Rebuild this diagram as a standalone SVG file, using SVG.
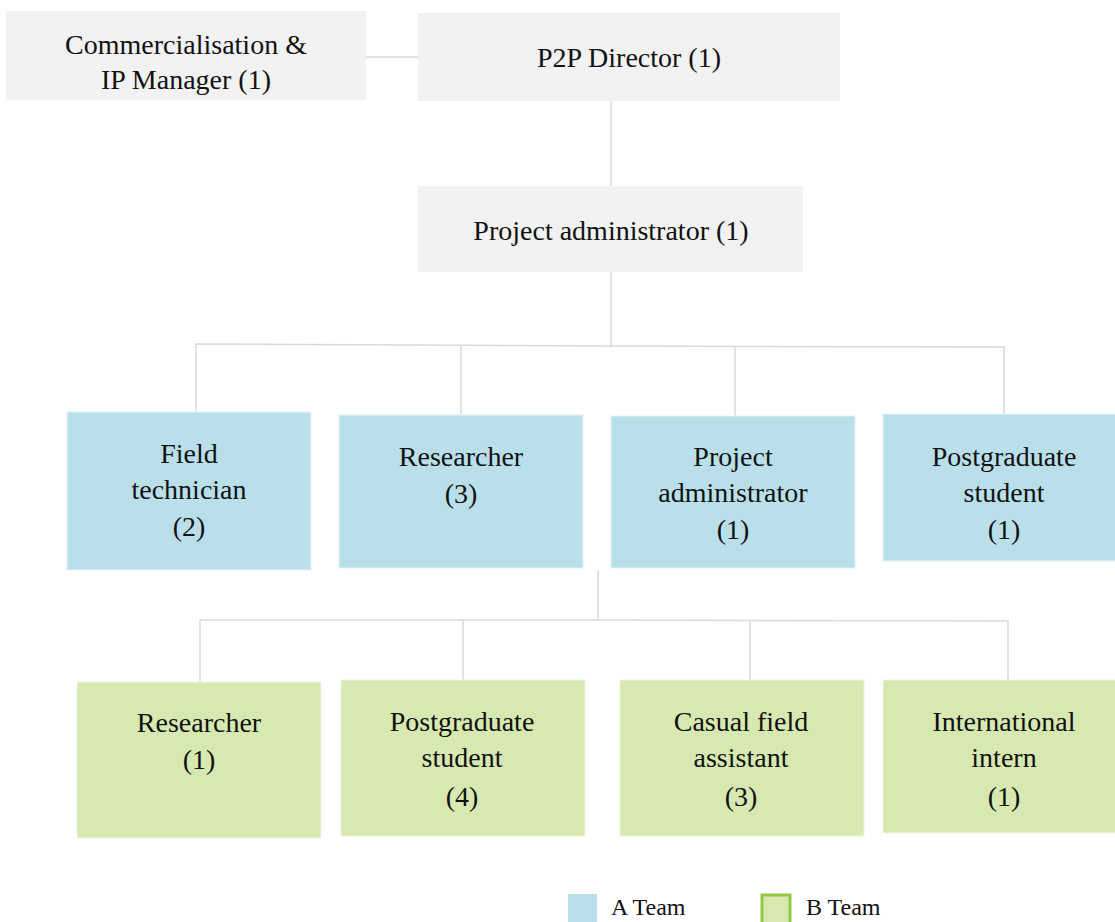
<svg xmlns="http://www.w3.org/2000/svg" width="1115" height="922" viewBox="0 0 1115 922">
  <style>
    .grey { fill: #f2f2f2; }
    .blue { fill: #b9e0ea; stroke: #e6f4f8; stroke-width: 1; }
    .green { fill: #d7e9b0; stroke: #eef6e0; stroke-width: 1; }
    .lbl { font-size: 28px; fill: #111; text-anchor: middle; }
    .leg { font-size: 24px; fill: #111; }
    .conn { fill: none; stroke: #d9d9d9; stroke-width: 1.5; }
  </style>

  <!-- connectors -->
  <g id="connectors" class="conn">
    <line x1="366" y1="57" x2="418" y2="57"/>
    <line x1="611" y1="101" x2="611" y2="186"/>
    <line x1="611" y1="272" x2="611" y2="346"/>
    <polyline points="196,412 196,344 611,346 1004,347 1004,414"/>
    <line x1="461" y1="345" x2="461" y2="415"/>
    <line x1="735" y1="346" x2="735" y2="416"/>
    <line x1="598" y1="570" x2="598" y2="620"/>
    <polyline points="200,682 200,620 598,620 1008,621 1008,680"/>
    <line x1="463" y1="620" x2="463" y2="680"/>
    <line x1="750" y1="620" x2="750" y2="680"/>
  </g>

  <g font-family="Liberation Serif, Times New Roman, serif">
  <!-- management -->
  <g id="commercialisation">
    <rect class="grey" x="6" y="11" width="360" height="89"/>
    <text class="lbl" x="186" y="54">Commercialisation &amp;</text>
    <text class="lbl" x="186" y="89">IP Manager (1)</text>
  </g>
  <g id="director">
    <rect class="grey" x="418" y="13" width="422" height="88"/>
    <text class="lbl" x="629" y="67">P2P Director (1)</text>
  </g>
  <g id="project-admin-top">
    <rect class="grey" x="418" y="186" width="385" height="86"/>
    <text class="lbl" x="611" y="240">Project administrator (1)</text>
  </g>

  <!-- A team -->
  <g id="a-field-technician">
    <rect class="blue" x="67" y="412" width="244" height="158"/>
    <text class="lbl" x="189" y="463">Field</text>
    <text class="lbl" x="189" y="499">technician</text>
    <text class="lbl" x="189" y="536">(2)</text>
  </g>
  <g id="a-researcher">
    <rect class="blue" x="339" y="415" width="244" height="153"/>
    <text class="lbl" x="461" y="466">Researcher</text>
    <text class="lbl" x="461" y="503">(3)</text>
  </g>
  <g id="a-project-admin">
    <rect class="blue" x="611" y="416" width="244" height="152"/>
    <text class="lbl" x="733" y="466">Project</text>
    <text class="lbl" x="733" y="502">administrator</text>
    <text class="lbl" x="733" y="539">(1)</text>
  </g>
  <g id="a-postgrad">
    <rect class="blue" x="883" y="414" width="244" height="147"/>
    <text class="lbl" x="1004" y="466">Postgraduate</text>
    <text class="lbl" x="1004" y="502">student</text>
    <text class="lbl" x="1004" y="539">(1)</text>
  </g>

  <!-- B team -->
  <g id="b-researcher">
    <rect class="green" x="77" y="682" width="244" height="156"/>
    <text class="lbl" x="199" y="732">Researcher</text>
    <text class="lbl" x="199" y="769">(1)</text>
  </g>
  <g id="b-postgrad">
    <rect class="green" x="341" y="680" width="244" height="156"/>
    <text class="lbl" x="462" y="731">Postgraduate</text>
    <text class="lbl" x="462" y="767">student</text>
    <text class="lbl" x="462" y="806">(4)</text>
  </g>
  <g id="b-casual">
    <rect class="green" x="620" y="680" width="244" height="156"/>
    <text class="lbl" x="741" y="731">Casual field</text>
    <text class="lbl" x="741" y="767">assistant</text>
    <text class="lbl" x="741" y="806">(3)</text>
  </g>
  <g id="b-intern">
    <rect class="green" x="883" y="680" width="244" height="153"/>
    <text class="lbl" x="1004" y="731">International</text>
    <text class="lbl" x="1004" y="767">intern</text>
    <text class="lbl" x="1004" y="806">(1)</text>
  </g>

  <!-- legend -->
  <g id="legend">
    <rect x="568" y="894" width="29" height="30" fill="#b9e0ea"/>
    <text class="leg" x="611" y="915">A Team</text>
    <rect x="762" y="895" width="28" height="30" fill="#d7e9b0" stroke="#92c83e" stroke-width="3"/>
    <text class="leg" x="806" y="915">B Team</text>
  </g>
  </g>
</svg>
